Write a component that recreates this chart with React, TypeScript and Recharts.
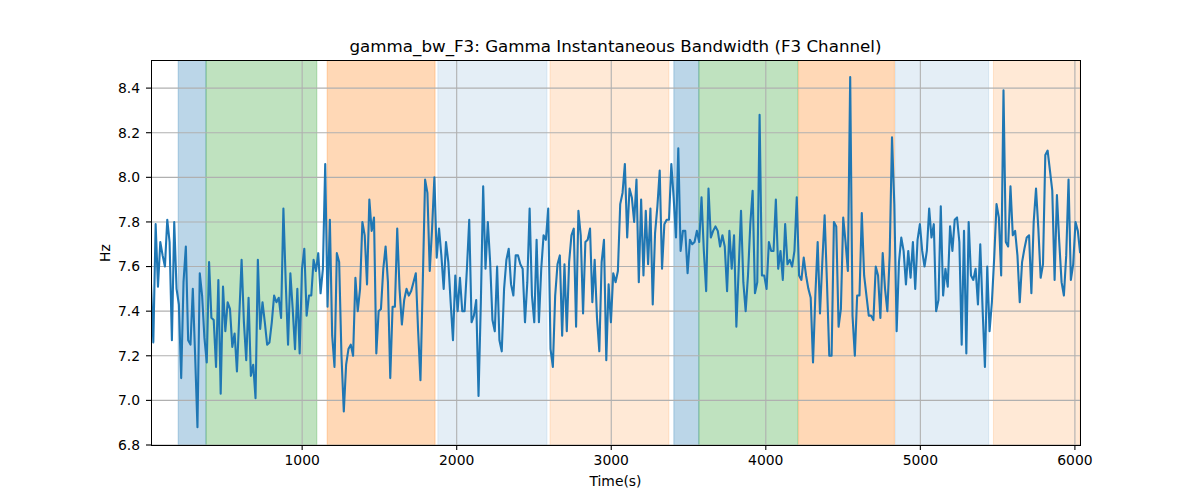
import React from 'react';
import { LineChart, Line, XAxis, YAxis, ReferenceArea, ReferenceLine } from 'recharts';

// sampling of the time axis (seconds)
const SAMPLE_START = 22;
const SAMPLE_STEP = 15.03;

// gamma instantaneous bandwidth (Hz), read left to right
const VALUES_A = [
  7.52, 7.26, 7.79, 7.51, 7.71, 7.65, 7.6, 7.81, 7.71, 7.27,
  7.8, 7.5, 7.43, 7.1, 7.53, 7.69, 7.27, 7.25, 7.5, 7.2,
  6.88, 7.57, 7.47, 7.28, 7.17, 7.62, 7.37, 7.36, 7.15, 7.54,
  7.03, 7.51, 7.31, 7.44, 7.41, 7.24, 7.3, 7.13, 7.38, 7.63,
  7.35, 7.18, 7.46, 7.11, 7.16, 7.01, 7.63, 7.32, 7.44, 7.35,
  7.25, 7.26, 7.35, 7.47, 7.44, 7.46, 7.37, 7.86, 7.53, 7.25,
  7.57, 7.41, 7.23, 7.5, 7.21, 7.59, 7.68, 7.38, 7.47,
];
const VALUES_B = [
  7.47, 7.63, 7.58, 7.66, 7.48, 7.59, 8.06, 7.42, 7.81, 7.29,
  7.15, 7.66, 7.62, 7.2, 6.95, 7.16, 7.23, 7.25, 7.2, 7.55,
  7.4, 7.5, 7.8, 7.74, 7.52, 7.9, 7.76, 7.82, 7.21, 7.4,
  7.41, 7.59, 7.69, 7.53, 7.1, 7.42, 7.42, 7.77, 7.5, 7.34,
  7.45, 7.5, 7.47, 7.49, 7.53, 7.57, 7.31, 7.09, 7.53, 7.99,
  7.93, 7.58, 7.77, 8.0, 7.64, 7.77, 7.65, 7.5, 7.71, 7.62,
  7.44, 7.27, 7.56, 7.4, 7.55, 7.4,
];
const VALUES_C = [
  7.4, 7.59, 7.81, 7.35, 7.38, 7.45, 7.02, 7.44, 7.96, 7.59,
  7.8, 7.62, 7.36, 7.31, 7.6, 7.27, 7.22, 7.5, 7.63, 7.68,
  7.52, 7.47, 7.65, 7.65, 7.61, 7.59, 7.35, 7.53, 7.86, 7.47,
  7.35, 7.72, 7.35, 7.59, 7.74, 7.72, 7.86, 7.23, 7.15, 7.47,
  7.61, 7.65, 7.29, 7.61, 7.31, 7.62, 7.74, 7.77, 7.33, 7.85,
  7.74, 7.39, 7.71, 7.72, 7.77, 7.44, 7.63, 7.37, 7.22, 7.62,
  7.72, 7.18, 7.52, 7.35, 7.57, 7.53, 7.58,
];
const VALUES_D = [
  7.88, 7.93, 8.06, 7.73, 7.95, 7.91, 7.8, 7.99, 7.53, 7.9,
  7.56, 7.85, 7.61, 7.86, 7.43, 7.75, 7.87, 8.03, 7.59, 7.79,
  7.81, 7.81, 8.06, 7.91, 7.73, 8.13, 7.67, 7.76, 7.76, 7.57,
  7.72, 7.7, 7.71, 7.76, 7.71, 7.91, 7.67, 7.49, 7.95, 7.73,
  7.76, 7.78, 7.76, 7.69, 7.74, 7.69, 7.49, 7.76, 7.59, 7.74,
  7.33, 7.59, 7.85, 7.53, 7.4, 7.56, 7.79, 7.94, 7.48, 7.53,
  8.28, 7.56, 7.56, 7.5, 7.71, 7.67, 7.67,
];
const VALUES_E = [
  7.9, 7.59, 7.67, 7.54, 7.79, 7.61, 7.63, 7.6, 7.67, 7.91,
  7.56, 7.54, 7.64, 7.56, 7.5, 7.46, 7.17, 7.47, 7.71, 7.39,
  7.62, 7.83, 7.53, 7.2, 7.2, 7.8, 7.78, 7.33, 7.41, 7.82,
  7.71, 7.58, 8.45, 7.38, 7.2, 7.47, 7.47, 7.84, 7.56, 7.47,
  7.38, 7.38, 7.36, 7.6, 7.56, 7.37, 7.66, 7.5, 7.4, 7.65,
  8.18, 7.88, 7.31, 7.62, 7.73, 7.67, 7.52, 7.67, 7.55, 7.71,
  7.5, 7.72, 7.79, 7.67, 7.6, 7.67, 7.86,
];
const VALUES_F = [
  7.73, 7.79, 7.4, 7.45, 7.87, 7.47, 7.59, 7.51, 7.78, 7.67,
  7.81, 7.82, 7.71, 7.25, 7.76, 7.21, 7.8, 7.56, 7.54, 7.59,
  7.43, 7.7, 7.41, 7.15, 7.6, 7.31, 7.44, 7.64, 7.88, 7.82,
  7.56, 8.39, 7.71, 7.69, 7.96, 7.74, 7.76, 7.65, 7.44, 7.62,
  7.68, 7.73, 7.74, 7.48, 7.8, 7.95, 7.77, 7.55, 7.61, 8.1,
  8.12, 8.03, 7.94, 7.54, 7.92, 7.71, 7.53, 7.47, 7.65, 7.99,
  7.54, 7.61, 7.8, 7.76, 7.66,
];

// shaded state spans (seconds)
const SPAN_STARTS = [198, 378, 1162, 1878, 2604, 3405, 3567, 4212, 4839, 5473];
const SPAN_ENDS = [378, 1095, 1860, 2584, 3373, 3567, 4207, 4832, 5442, 6033];
const SPAN_KINDS = ['blue', 'green', 'orange', 'lightblue', 'lightorange', 'blue', 'green', 'orange', 'lightblue', 'lightorange'];

const X_TICKS = [1000, 2000, 3000, 4000, 5000, 6000];
const Y_TICKS = [6.8, 7.0, 7.2, 7.4, 7.6, 7.8, 8.0, 8.2, 8.4];
const X_DOMAIN = [22, 6033];
const Y_DOMAIN = [6.8, 8.526];

const SPAN_STYLE: Record<string, { color: string; opacity: number }> = {
  blue: { color: '#1f77b4', opacity: 0.3 },
  green: { color: '#2ca02c', opacity: 0.3 },
  orange: { color: '#ff7f0e', opacity: 0.3 },
  lightblue: { color: '#1f77b4', opacity: 0.12 },
  lightorange: { color: '#ff7f0e', opacity: 0.17 },
};

const ALL_VALUES = [...VALUES_A, ...VALUES_B, ...VALUES_C, ...VALUES_D, ...VALUES_E, ...VALUES_F];
const DATA = ALL_VALUES.map((v, i) => ({ t: SAMPLE_START + i * SAMPLE_STEP, v }));

const FONT = '"DejaVu Sans", sans-serif';
const PLOT_LEFT = 151;
const PLOT_TOP = 60;
const PLOT_RIGHT = 1080;
const PLOT_BOTTOM = 445;

export default function App() {
  const tickStyle = { fontFamily: FONT, fontSize: 13.9, fill: '#000' };
  return (
    <div style={{ position: 'absolute', left: 0, top: 0, width: 1200, height: 500, background: '#fff' }}>
      <LineChart
        width={1200}
        height={500}
        data={DATA}
        margin={{ top: PLOT_TOP, right: 1200 - PLOT_RIGHT, bottom: 0, left: 0 }}
      >
        <XAxis
          dataKey="t"
          type="number"
          domain={X_DOMAIN}
          ticks={X_TICKS}
          allowDataOverflow
          height={500 - PLOT_BOTTOM}
          axisLine={false}
          tickLine={{ stroke: '#000', strokeWidth: 1.1 }}
          tickSize={5}
          tickMargin={5}
          tick={tickStyle}
          interval={0}
        />
        <YAxis
          type="number"
          domain={Y_DOMAIN}
          ticks={Y_TICKS}
          allowDataOverflow
          width={PLOT_LEFT}
          axisLine={false}
          tickLine={{ stroke: '#000', strokeWidth: 1.1 }}
          tickSize={5}
          tickMargin={6}
          tick={tickStyle}
          tickFormatter={(v: number) => v.toFixed(1)}
          interval={0}
        />
        {SPAN_STARTS.map((s, i) => {
          const st = SPAN_STYLE[SPAN_KINDS[i]];
          return (
            <ReferenceArea
              key={'span' + i}
              x1={s}
              x2={SPAN_ENDS[i]}
              fill={st.color}
              fillOpacity={st.opacity}
              stroke={st.color}
              strokeOpacity={st.opacity}
              strokeWidth={1}
              ifOverflow="hidden"
            />
          );
        })}
        {X_TICKS.map((x) => (
          <ReferenceLine key={'gx' + x} x={x} stroke="#b0b0b0" strokeWidth={1.1} />
        ))}
        {Y_TICKS.map((y) => (
          <ReferenceLine key={'gy' + y} y={y} stroke="#b0b0b0" strokeWidth={1.1} />
        ))}
        <Line
          type="linear"
          dataKey="v"
          stroke="#1f77b4"
          strokeWidth={2.1}
          strokeLinejoin="round"
          dot={false}
          activeDot={false}
          isAnimationActive={false}
        />
      </LineChart>
      <div
        style={{
          position: 'absolute',
          left: PLOT_LEFT - 0.5,
          top: PLOT_TOP - 0.5,
          width: PLOT_RIGHT - PLOT_LEFT + 1,
          height: PLOT_BOTTOM - PLOT_TOP + 1,
          border: '1.1px solid #000',
          boxSizing: 'border-box',
          pointerEvents: 'none',
        }}
      />
      <div
        style={{
          position: 'absolute',
          left: 0,
          width: PLOT_LEFT + PLOT_RIGHT,
          top: 37,
          textAlign: 'center',
          fontFamily: FONT,
          fontSize: 16.7,
          lineHeight: '18px',
          color: '#000',
          whiteSpace: 'nowrap',
        }}
      >
        gamma_bw_F3: Gamma Instantaneous Bandwidth (F3 Channel)
      </div>
      <div
        style={{
          position: 'absolute',
          left: 0,
          width: PLOT_LEFT + PLOT_RIGHT,
          top: 473,
          textAlign: 'center',
          fontFamily: FONT,
          fontSize: 13.9,
          lineHeight: '16px',
          color: '#000',
        }}
      >
        Time(s)
      </div>
      <div
        style={{
          position: 'absolute',
          left: 105 - 40,
          top: (PLOT_TOP + PLOT_BOTTOM) / 2 - 8,
          width: 80,
          height: 16,
          lineHeight: '16px',
          textAlign: 'center',
          transform: 'rotate(-90deg)',
          fontFamily: FONT,
          fontSize: 13.9,
          color: '#000',
        }}
      >
        Hz
      </div>
    </div>
  );
}
